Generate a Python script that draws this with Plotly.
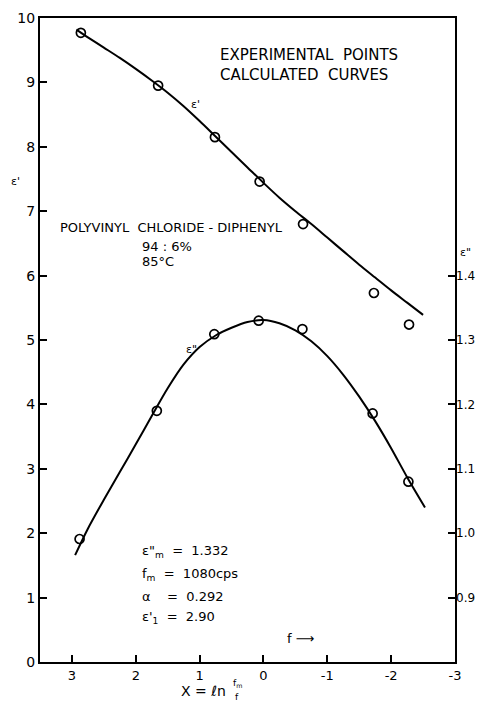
import plotly.graph_objects as go

# Experimental points, epsilon' (left axis)
x_eps1_pts = [2.86, 1.65, 0.76, 0.06, -0.62, -1.73, -2.28]
y_eps1_pts = [9.77, 8.95, 8.15, 7.46, 6.80, 5.73, 5.24]

# Calculated curve, epsilon'
x_eps1_curve = [2.93, 2.75, 2.5, 2.25, 2.0, 1.75, 1.5, 1.25, 1.0, 0.75, 0.5, 0.25, 0.0,
                -0.25, -0.5, -0.75, -1.0, -1.25, -1.5, -1.75, -2.0, -2.25, -2.5]
y_eps1_curve = [9.82, 9.70, 9.54, 9.38, 9.21, 9.03, 8.84, 8.63, 8.40, 8.16, 7.92, 7.68, 7.44,
                7.21, 7.00, 6.80, 6.59, 6.38, 6.17, 5.97, 5.77, 5.58, 5.39]

# Experimental points, epsilon'' (right axis)
x_eps2_pts = [2.88, 1.67, 0.77, 0.075, -0.61, -1.71, -2.27]
y_eps2_pts = [0.991, 1.190, 1.309, 1.330, 1.317, 1.186, 1.080]

# Calculated curve, epsilon''
x_eps2_curve = [2.95, 2.75, 2.5, 2.25, 2.0, 1.75, 1.5, 1.25, 1.0, 0.75, 0.5, 0.25, 0.0,
                -0.25, -0.5, -0.75, -1.0, -1.25, -1.5, -1.75, -2.0, -2.25, -2.53]
y_eps2_curve = [0.966, 1.007, 1.052, 1.095, 1.138, 1.182, 1.225, 1.262, 1.289, 1.307, 1.319,
                1.328, 1.331, 1.326, 1.315, 1.298, 1.275, 1.246, 1.212, 1.174, 1.132, 1.087, 1.040]

x_ticks = [3, 2, 1, 0, -1, -2, -3]
y_left_ticks = list(range(0, 11))
y_right_ticks = [0.9, 1.0, 1.1, 1.2, 1.3, 1.4]
y_right_labels = ["0.9", "1.0", "1.1", "1.2", "1.3", "1.4"]

FONT = "DejaVu Sans"
fig = go.Figure()

line_style = dict(color="black", width=2, shape="spline", smoothing=0.8)
marker_style = dict(symbol="circle-open", size=9, color="black", line=dict(width=1.7, color="black"))

fig.add_trace(go.Scatter(x=x_eps1_curve, y=y_eps1_curve, mode="lines", line=line_style,
                         showlegend=False, hoverinfo="skip"))
fig.add_trace(go.Scatter(x=x_eps1_pts, y=y_eps1_pts, mode="markers", marker=marker_style,
                         showlegend=False))
fig.add_trace(go.Scatter(x=x_eps2_curve, y=y_eps2_curve, mode="lines", line=line_style,
                         yaxis="y2", showlegend=False, hoverinfo="skip"))
fig.add_trace(go.Scatter(x=x_eps2_pts, y=y_eps2_pts, mode="markers", marker=marker_style,
                         yaxis="y2", showlegend=False))

axis_font = dict(family=FONT, size=14, color="black")

fig.update_layout(
    width=477, height=704,
    margin=dict(l=40, r=22, t=18, b=42),
    paper_bgcolor="white", plot_bgcolor="white",
    font=dict(family=FONT, color="black"),
    xaxis=dict(range=[3.5, -3], tickvals=x_ticks, ticktext=[str(v) for v in x_ticks],
               ticks="inside", ticklen=7, tickwidth=1.5, tickcolor="black",
               showline=True, linecolor="black", linewidth=2, mirror=True,
               showgrid=False, zeroline=False, tickfont=dict(family=FONT, size=13, color="black"),
               automargin=False),
    yaxis=dict(range=[0, 10], tickvals=y_left_ticks, ticks="inside", ticklen=7,
               tickwidth=1.5, tickcolor="black",
               showline=True, linecolor="black", linewidth=2, mirror=True,
               showgrid=False, zeroline=False, tickfont=axis_font, automargin=False),
    yaxis2=dict(range=[0.8, 1.8], overlaying="y", side="right",
                tickvals=y_right_ticks, ticktext=y_right_labels,
                ticks="inside", ticklen=7, tickwidth=1.5, tickcolor="black",
                showline=False, showgrid=False, zeroline=False, automargin=False,
                tickfont=dict(family=FONT, size=12, color="black")),
)

def ann(text, x, y, xanchor="left", size=12, xref="x", yref="y", yanchor="middle"):
    fig.add_annotation(text=text, x=x, y=y, xref=xref, yref=yref, xanchor=xanchor,
                       yanchor=yanchor, showarrow=False,
                       font=dict(family=FONT, size=size, color="black"))

ann("EXPERIMENTAL&nbsp;&nbsp;POINTS", 0.71, 9.43, size=15)
ann("CALCULATED&nbsp;&nbsp;CURVES", 0.71, 9.12, size=15)
ann("ε'", 1.07, 8.66, xanchor="center", size=11)
ann("ε\"", 1.12, 4.86, xanchor="center", size=11)
ann("POLYVINYL&nbsp;&nbsp;CHLORIDE - DIPHENYL", 3.22, 6.74, size=13)
ann("94 : 6%", 1.93, 6.45, size=13)
ann("85°C", 1.93, 6.22, size=13)
ann("ε\"<sub>m</sub>&nbsp;&nbsp;=&nbsp;&nbsp;1.332", 1.93, 1.71, size=13)
ann("f<sub>m</sub>&nbsp;&nbsp;=&nbsp;&nbsp;1080cps", 1.93, 1.36, size=13)
ann("α&nbsp;&nbsp;&nbsp;&nbsp;=&nbsp;&nbsp;0.292", 1.93, 1.02, size=13)
ann("ε'<sub>1</sub>&nbsp;&nbsp;=&nbsp;&nbsp;2.90", 1.93, 0.69, size=13)
ann("f ⟶", -0.34, 0.37, size=13)
ann("ε'", -0.06, 7.46, xanchor="center", size=11, xref="paper")
ann("ε\"", 1.026, 6.36, xanchor="center", size=11, xref="paper")
# x-axis title: X = ln (fm / f)
ann("X = ℓn", 0.453, -0.0445, xanchor="right", size=14, xref="paper", yref="paper")
ann("f<sub>m</sub>", 0.477, -0.034, xanchor="center", size=9, xref="paper", yref="paper")
ann("f", 0.475, -0.054, xanchor="center", size=9, xref="paper", yref="paper")

fig.write_html("out.html")
